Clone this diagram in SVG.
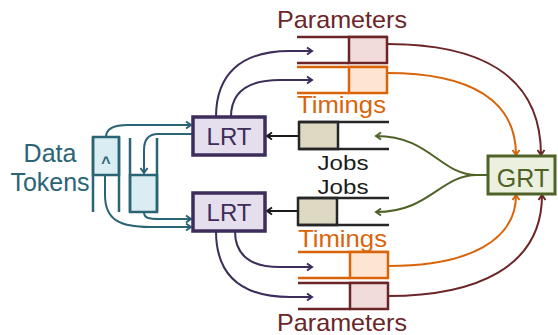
<svg xmlns="http://www.w3.org/2000/svg" width="558" height="335" viewBox="0 0 558 335">
<style>
text{font-family:"Liberation Sans",Arial,sans-serif;font-size:24px}
.teal{fill:#2a6475}
.par{fill:#6b2527}
.tim{fill:#d9640a}
.job{fill:#1a1a1a;font-size:21px}
.c{fill:none;stroke-width:2}
</style>
<defs>
<marker id="aT" markerWidth="10" markerHeight="10" refX="7" refY="5" orient="auto" markerUnits="userSpaceOnUse"><path d="M2,1.5 L7,5 L2,8.5" fill="none" stroke="#2a6475" stroke-width="2"/></marker>
<marker id="aL" markerWidth="10" markerHeight="10" refX="7" refY="5" orient="auto" markerUnits="userSpaceOnUse"><path d="M2,1.5 L7,5 L2,8.5" fill="none" stroke="#3d2d5a" stroke-width="2"/></marker>
<marker id="aP" markerWidth="10" markerHeight="10" refX="7" refY="5" orient="auto" markerUnits="userSpaceOnUse"><path d="M2,1.5 L7,5 L2,8.5" fill="none" stroke="#6b2527" stroke-width="2"/></marker>
<marker id="aO" markerWidth="10" markerHeight="10" refX="7" refY="5" orient="auto" markerUnits="userSpaceOnUse"><path d="M2,1.5 L7,5 L2,8.5" fill="none" stroke="#d9640a" stroke-width="2"/></marker>
<marker id="aG" markerWidth="10" markerHeight="10" refX="7" refY="5" orient="auto" markerUnits="userSpaceOnUse"><path d="M2,1.5 L7,5 L2,8.5" fill="none" stroke="#4f6228" stroke-width="2"/></marker>
<marker id="aK" markerWidth="10" markerHeight="10" refX="7" refY="5" orient="auto" markerUnits="userSpaceOnUse"><path d="M2,1.5 L7,5 L2,8.5" fill="none" stroke="#1a1a1a" stroke-width="2"/></marker>
</defs>

<g id="connectors">
  <!-- data tokens -->
  <path class="c" stroke="#2a6475" d="M106,137 C106,129 114,125 128,125 L191,125" marker-end="url(#aT)"/>
  <path class="c" stroke="#2a6475" d="M192,134 L158,134 C148,134 144,140 144,150 L144,173" marker-end="url(#aT)"/>
  <path class="c" stroke="#2a6475" d="M144,212 C144,218 148,219 160,219 L191,219" marker-end="url(#aT)"/>
  <path class="c" stroke="#2a6475" d="M105,175 L105,195 C105,220 120,227 150,227 L191,227" marker-end="url(#aT)"/>
  <!-- LRT to queues -->
  <path class="c" stroke="#3d2d5a" d="M216,117 C216,75 240,51 290,51 L312,51" marker-end="url(#aL)"/>
  <path class="c" stroke="#3d2d5a" d="M231,117 C231,94 246,80 280,80 L312,80" marker-end="url(#aL)"/>
  <path class="c" stroke="#3d2d5a" d="M216,231 C216,274 240,297 290,297 L312,297" marker-end="url(#aL)"/>
  <path class="c" stroke="#3d2d5a" d="M235,231 C235,255 250,267 280,267 L312,267" marker-end="url(#aL)"/>
  <!-- queues to GRT -->
  <path class="c" stroke="#6b2527" d="M387,44 C475,44 541,72 541,155" marker-end="url(#aP)"/>
  <path class="c" stroke="#d9640a" d="M387,73 C470,73 516,100 516,155" marker-end="url(#aO)"/>
  <path class="c" stroke="#d9640a" d="M388,266 C470,266 516,240 516,195" marker-end="url(#aO)"/>
  <path class="c" stroke="#6b2527" d="M388,296 C475,296 542,268 542,195" marker-end="url(#aP)"/>
  <!-- GRT to jobs -->
  <path class="c" stroke="#4f6228" d="M488,175 L477,175 C440,175 430,136 376,136" marker-end="url(#aG)"/>
  <path class="c" stroke="#4f6228" d="M477,175 C440,175 430,212 376,212" marker-end="url(#aG)"/>
  <!-- jobs to LRT -->
  <path class="c" stroke="#1a1a1a" d="M299,136 L267,136" marker-end="url(#aK)"/>
  <path class="c" stroke="#1a1a1a" d="M298,211 L267,211" marker-end="url(#aK)"/>
</g>

<g id="data-tokens">
  <rect x="93" y="137" width="26" height="38" fill="#daedf3" stroke="#2a6475" stroke-width="2.5"/>
  <path d="M93,137 V212 M119,137 V212" fill="none" stroke="#2a6475" stroke-width="2.5"/>
  <text x="106" y="168" class="teal" style="font-size:16px;font-weight:bold" text-anchor="middle">^</text>
  <rect x="130" y="175" width="27" height="37" fill="#daedf3" stroke="#2a6475" stroke-width="2.5"/>
  <path d="M130,138 V212 M157,138 V212" fill="none" stroke="#2a6475" stroke-width="2.5"/>
  <text x="50" y="162" class="teal" text-anchor="middle" style="font-size:25px">Data</text>
  <text x="50" y="191" class="teal" text-anchor="middle" style="font-size:25px">Tokens</text>
</g>

<g id="lrt-top">
  <rect x="193" y="117" width="72" height="38" fill="#e5dfed" stroke="#3d2d5a" stroke-width="3.5"/>
  <text x="229" y="145" fill="#3d2d5a" text-anchor="middle">LRT</text>
</g>
<g id="lrt-bottom">
  <rect x="193" y="193" width="72" height="38" fill="#e5dfed" stroke="#3d2d5a" stroke-width="3.5"/>
  <text x="229" y="221" fill="#3d2d5a" text-anchor="middle">LRT</text>
</g>

<g id="grt">
  <rect x="488" y="156" width="67" height="38" fill="#ebf1de" stroke="#4f6228" stroke-width="3"/>
  <text x="523" y="187" fill="#4f6228" text-anchor="middle" style="font-size:25px">GRT</text>
</g>

<g id="params-top">
  <text x="277" y="28" class="par" textLength="130" lengthAdjust="spacingAndGlyphs">Parameters</text>
  <path d="M297,37 H387 M297,63 H349" fill="none" stroke="#6b2527" stroke-width="2.5"/>
  <rect x="349" y="37" width="38" height="26" fill="#f2dcdb" stroke="#6b2527" stroke-width="2.5"/>
</g>
<g id="timings-top">
  <path d="M297,67 H387 M297,93 H349" fill="none" stroke="#d9640a" stroke-width="2.5"/>
  <rect x="349" y="67" width="38" height="26" fill="#fde5d2" stroke="#d9640a" stroke-width="2.5"/>
  <text x="297" y="113" class="tim" textLength="89" lengthAdjust="spacingAndGlyphs">Timings</text>
</g>
<g id="jobs-top">
  <rect x="299" y="122" width="39" height="27" fill="#ddd9c3" stroke="#262626" stroke-width="2.5"/>
  <path d="M299,122 H389 M299,149 H389" fill="none" stroke="#262626" stroke-width="2.5"/>
  <text x="343" y="170" class="job" text-anchor="middle" textLength="51" lengthAdjust="spacingAndGlyphs">Jobs</text>
</g>
<g id="jobs-bottom">
  <text x="343" y="194" class="job" text-anchor="middle" textLength="51" lengthAdjust="spacingAndGlyphs">Jobs</text>
  <rect x="298" y="198" width="39" height="27" fill="#ddd9c3" stroke="#262626" stroke-width="2.5"/>
  <path d="M298,198 H389 M298,225 H389" fill="none" stroke="#262626" stroke-width="2.5"/>
</g>
<g id="timings-bottom">
  <text x="298" y="247" class="tim" textLength="89" lengthAdjust="spacingAndGlyphs">Timings</text>
  <path d="M298,252 H388 M298,278 H350" fill="none" stroke="#d9640a" stroke-width="2.5"/>
  <rect x="350" y="252" width="38" height="26" fill="#fde5d2" stroke="#d9640a" stroke-width="2.5"/>
</g>
<g id="params-bottom">
  <path d="M298,283 H388 M298,309 H350" fill="none" stroke="#6b2527" stroke-width="2.5"/>
  <rect x="350" y="283" width="38" height="26" fill="#f2dcdb" stroke="#6b2527" stroke-width="2.5"/>
  <text x="277" y="331" class="par" textLength="130" lengthAdjust="spacingAndGlyphs">Parameters</text>
</g>
</svg>
